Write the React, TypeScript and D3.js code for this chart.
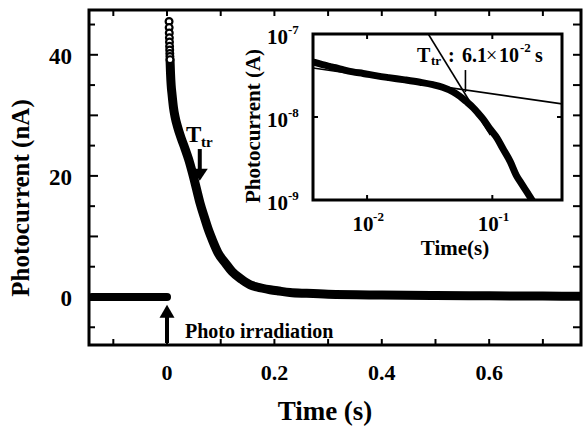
import React from 'react';
import * as d3 from 'd3';

const W = 587;
const H = 426;

// ---- main panel data (time in s, photocurrent in nA) ----
const preTime = [-0.14, -0.1, -0.05, 0.0];
const preCurrent = [0, 0, 0, 0];

// resolved early samples, drawn as open circles
const earlyTime = [0.0038, 0.004, 0.0042, 0.0044, 0.0046, 0.0048, 0.005, 0.0052, 0.0054, 0.0056];
const earlyCurrent = [45.5, 44.5, 43.6, 42.8, 42.1, 41.4, 40.8, 40.2, 39.7, 39.2];

// dense decay samples, drawn as thick trace
const decayTime = [0.0056, 0.0065, 0.0077, 0.0093, 0.012, 0.0149, 0.02, 0.0265, 0.0335, 0.04, 0.0488, 0.055,
  0.0615, 0.0705, 0.0763, 0.085, 0.095, 0.1096, 0.121, 0.139, 0.155, 0.1675, 0.192, 0.209, 0.229, 0.26,
  0.3, 0.4, 0.5, 0.6, 0.7, 0.77];
const decayCurrent = [39.2, 37.0, 35.0, 33.5, 31.3, 29.8, 28.0, 26.2, 24.5, 22.8, 20.0, 17.8,
  15.5, 12.9, 11.3, 9.3, 7.3, 5.5, 4.2, 2.9, 2.0, 1.65, 1.2, 0.98, 0.75, 0.6,
  0.45, 0.32, 0.25, 0.2, 0.15, 0.12];

const xTicks = [-0.1, 0, 0.1, 0.2, 0.3, 0.4, 0.5, 0.6, 0.7];
const xTickLabels = ['0', '0.2', '0.4', '0.6'];
const xLabelValues = [0, 0.2, 0.4, 0.6];
const yTicks = [-5, 0, 5, 10, 15, 20, 25, 30, 35, 40, 45];
const yLabelValues = [0, 20, 40];
const yTickLabels = ['0', '20', '40'];

// annotations
const ttrTime = 0.061;
const ttrArrowCurrent = [24.6, 19.2];
const irradiationTime = 0;
const irradiationArrowCurrent = [-7.6, -1.3];

// ---- inset (log-log, current in A) ----
const insetXTicks = [1e-2, 1e-1];
const insetXLabels = ['-2', '-1'];
const insetYTicks = [1e-9, 1e-8, 1e-7];
const insetYLabels = ['-9', '-8', '-7'];
const fitShallowTime = [0.0037, 0.36];
const fitShallowCurrent = [3.89e-8, 1.44e-8];
const fitSteepTime = [0.0308, 0.0964];
const fitSteepCurrent = [1e-7, 6.07e-9];
const ttrMarkCurrent = [3.68e-8, 2.0e-8];

const FONT = '"Liberation Serif", "Times New Roman", serif';

export default function App() {
  const x = d3.scaleLinear().domain([-0.1453, 0.771]).range([89, 581]);
  const y = d3.scaleLinear().domain([-7.93, 47.4]).range([345, 10]);
  const ix = d3.scaleLog().domain([0.0037, 0.36]).range([313, 562]);
  const iy = d3.scaleLog().domain([1e-9, 1e-7]).range([200, 34]);

  const mainLine = d3.line<[number, number]>().x(d => x(d[0])).y(d => y(d[1])).curve(d3.curveMonotoneX);
  const preLine = d3.line<[number, number]>().x(d => x(d[0])).y(d => y(d[1]));
  const insetLine = d3.line<[number, number]>().x(d => ix(d[0])).y(d => iy(d[1])).curve(d3.curveMonotoneX);
  const straight = d3.line<[number, number]>().x(d => ix(d[0])).y(d => iy(d[1]));

  const preData: [number, number][] = preTime.map((t, i) => [t, preCurrent[i]]);
  const decayData: [number, number][] = decayTime.map((t, i) => [t, decayCurrent[i]]);
  const earlyData: [number, number][] = earlyTime.map((t, i) => [t, earlyCurrent[i]]);
  const insetData: [number, number][] = [...earlyData, ...decayData.slice(1)]
    .filter(d => d[1] > 0.5)
    .map(d => [d[0], d[1] * 1e-9]);

  const [x0, x1] = x.range();
  const [y0, y1] = [y.range()[1], y.range()[0]];
  const [ix0, ix1] = ix.range();
  const [iy0, iy1] = [iy.range()[1], iy.range()[0]];

  const arrowX = x(ttrTime);
  const ttrTop = y(ttrArrowCurrent[0]);
  const ttrTip = y(ttrArrowCurrent[1]);
  const irrX = x(irradiationTime);
  const irrBottom = y(irradiationArrowCurrent[0]);
  const irrTip = y(irradiationArrowCurrent[1]);

  return (
    <div style={{ position: 'absolute', left: 0, top: 0, width: W, height: H, background: '#fff' }}>
      <svg width={W} height={H} style={{ display: 'block' }} fontFamily={FONT} fontWeight="bold">
        <rect x={0} y={0} width={W} height={H} fill="#fff" />
        <defs>
          <clipPath id="mainClip"><rect x={x0} y={y0} width={x1 - x0} height={y1 - y0} /></clipPath>
          <clipPath id="insetClip"><rect x={ix0} y={iy0} width={ix1 - ix0} height={iy1 - iy0} /></clipPath>
        </defs>

        {/* main data */}
        <g clipPath="url(#mainClip)">
          <path d={preLine(preData) || ''} fill="none" stroke="#000" strokeWidth={8} strokeLinecap="round" />
          <path d={mainLine(decayData) || ''} fill="none" stroke="#000" strokeWidth={9} strokeLinecap="round" strokeLinejoin="round" />
          {earlyData.map((d, i) => (
            <circle key={i} cx={x(d[0])} cy={y(d[1])} r={3.4} fill="#fff" stroke="#000" strokeWidth={2.2} />
          ))}
        </g>

        {/* main ticks */}
        {xTicks.map((t, i) => (
          <g key={'xt' + i}>
            <line x1={x(t)} x2={x(t)} y1={y1} y2={y1 - 6} stroke="#000" strokeWidth={2} />
            <line x1={x(t)} x2={x(t)} y1={y0} y2={y0 + 6} stroke="#000" strokeWidth={2} />
          </g>
        ))}
        {yTicks.map((v, i) => {
          const len = v % 10 === 0 ? 9 : 6;
          return (
            <g key={'yt' + i}>
              <line x1={x0} x2={x0 + len} y1={y(v)} y2={y(v)} stroke="#000" strokeWidth={2} />
              <line x1={x1} x2={x1 - 8} y1={y(v)} y2={y(v)} stroke="#000" strokeWidth={2} />
            </g>
          );
        })}
        <rect x={x0} y={y0} width={x1 - x0} height={y1 - y0} fill="none" stroke="#000" strokeWidth={3} />

        {/* main tick labels */}
        {xLabelValues.map((v, i) => (
          <text key={'xl' + i} x={x(v)} y={380} textAnchor="middle" fontSize={22}>{xTickLabels[i]}</text>
        ))}
        {yLabelValues.map((v, i) => (
          <text key={'yl' + i} x={72} y={y(v) + 9} textAnchor="end" fontSize={23}>{yTickLabels[i]}</text>
        ))}
        <text x={325} y={420} textAnchor="middle" fontSize={27}>Time (s)</text>
        <text transform="translate(29,198) rotate(-90)" textAnchor="middle" fontSize={25}>Photocurrent (nA)</text>

        {/* T_tr arrow on main */}
        <text x={186} y={142} fontSize={23}>T</text>
        <text x={201} y={147} fontSize={15}>tr</text>
        <line x1={arrowX} x2={arrowX} y1={ttrTop + 1} y2={ttrTip - 10} stroke="#000" strokeWidth={4} />
        <path d={`M${arrowX - 8},${ttrTip - 12} L${arrowX + 8},${ttrTip - 12} L${arrowX},${ttrTip} Z`} fill="#000" />

        {/* Photo irradiation arrow */}
        <line x1={irrX} x2={irrX} y1={irrBottom} y2={irrTip + 11} stroke="#000" strokeWidth={4} />
        <path d={`M${irrX - 7.5},${irrTip + 13} L${irrX + 7.5},${irrTip + 13} L${irrX},${irrTip} Z`} fill="#000" />
        <text x={185} y={338} fontSize={20}>Photo irradiation</text>

        {/* inset */}
        <rect x={ix0} y={iy0} width={ix1 - ix0} height={iy1 - iy0} fill="#fff" />
        <g clipPath="url(#insetClip)">
          <path d={insetLine(insetData) || ''} fill="none" stroke="#000" strokeWidth={7} strokeLinecap="round" strokeLinejoin="round" />
          <path d={straight(fitShallowTime.map((t, i) => [t, fitShallowCurrent[i]] as [number, number])) || ''} fill="none" stroke="#000" strokeWidth={1.6} />
          <path d={straight(fitSteepTime.map((t, i) => [t, fitSteepCurrent[i]] as [number, number])) || ''} fill="none" stroke="#000" strokeWidth={1.6} />
          <line x1={ix(ttrTime)} x2={ix(ttrTime)} y1={iy(ttrMarkCurrent[0])} y2={iy(ttrMarkCurrent[1])} stroke="#000" strokeWidth={1.6} />
        </g>
        {insetXTicks.map((t, i) => (
          <g key={'ixt' + i}>
            <line x1={ix(t)} x2={ix(t)} y1={iy0} y2={iy0 + 5} stroke="#000" strokeWidth={2} />
            <line x1={ix(t)} x2={ix(t)} y1={iy1} y2={iy1 - 5} stroke="#000" strokeWidth={2} />
            <text x={ix(t) - 4} y={iy1 + 31} textAnchor="middle" fontSize={21}>10</text>
            <text x={ix(t) + 6} y={iy1 + 21} textAnchor="start" fontSize={13}>{insetXLabels[i]}</text>
          </g>
        ))}
        {insetYTicks.map((v, i) => (
          <g key={'iyt' + i}>
            <line x1={ix0} x2={ix0 + 5} y1={iy(v)} y2={iy(v)} stroke="#000" strokeWidth={2} />
            <line x1={ix1} x2={ix1 - 5} y1={iy(v)} y2={iy(v)} stroke="#000" strokeWidth={2} />
            <text x={288} y={iy(v) + 10} textAnchor="end" fontSize={21}>10</text>
            <text x={288} y={iy(v)} textAnchor="start" fontSize={13}>{insetYLabels[i]}</text>
          </g>
        ))}
        <rect x={ix0} y={iy0} width={ix1 - ix0} height={iy1 - iy0} fill="none" stroke="#000" strokeWidth={3} />
        <text x={455} y={255} textAnchor="middle" fontSize={21}>Time(s)</text>
        <text transform="translate(260,126) rotate(-90)" textAnchor="middle" fontSize={21}>Photocurrent (A)</text>

        {/* T_tr value */}
        <text x={417} y={62} fontSize={20}>T</text>
        <text x={431} y={65} fontSize={13}>tr</text>
        <text x={448} y={62} fontSize={20}>:</text>
        <text x={462} y={62} fontSize={20}>6.1</text>
        <text x={486} y={62} fontSize={20} fontWeight="normal">×</text>
        <text x={499} y={62} fontSize={20}>10</text>
        <text x={520} y={52} fontSize={13}>-2</text>
        <text x={535} y={62} fontSize={20}>s</text>
      </svg>
    </div>
  );
}
